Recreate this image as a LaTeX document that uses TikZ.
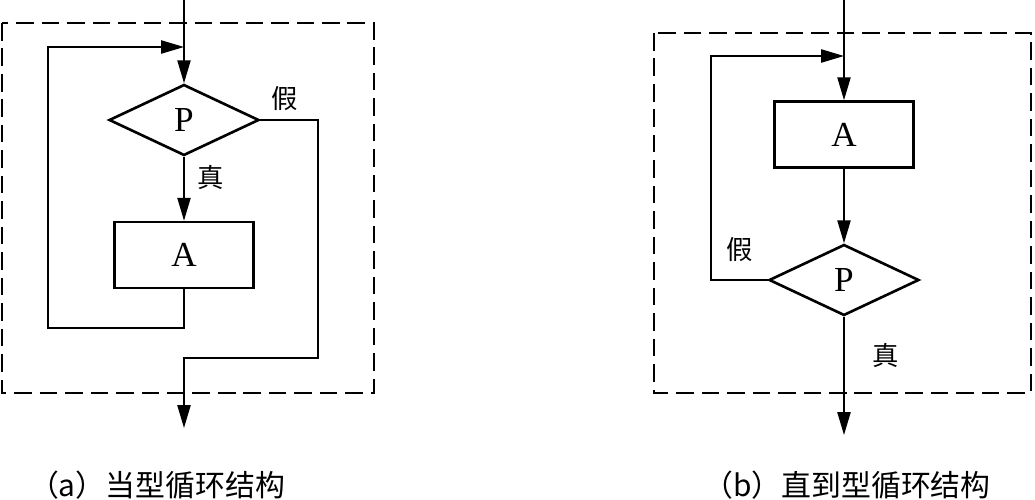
\documentclass[tikz,border=0pt]{standalone}
\usepackage{fontspec}
\setmainfont{Liberation Serif}
\newfontfamily\cjk{Noto Sans CJK SC}
\usetikzlibrary{arrows.meta,shapes.geometric}

\begin{document}
\begin{tikzpicture}[
  x=0.02cm, y=-0.02cm,
  font=\fontsize{15}{18}\selectfont,
  proc/.style={draw, line width=1.5pt, minimum width=2.78cm, minimum height=1.32cm,
    inner sep=0pt, font=\fontsize{20}{22}\selectfont},
  dec/.style={draw, diamond, line width=1.5pt, minimum width=3cm, minimum height=1.42cm,
    inner sep=0pt, font=\fontsize{20}{22}\selectfont},
  flow/.style={line width=0.9pt, -{Triangle[length=13pt,width=7.5pt]}},
  frame/.style={line width=0.9pt, dash pattern=on 10pt off 4.5pt},
  lab/.style={font=\cjk\fontsize{15}{18}\selectfont, inner sep=2pt},
  captxt/.style={font=\cjk\fontsize{17}{20}\selectfont}
]
\useasboundingbox (0,0) rectangle (1035,500);

% (a) while loop
\draw[frame] (2,23) rectangle (374,393);
\coordinate (inA) at (184,0);
\node[dec] (pA) at (184,120) {P};
\node[proc] (aA) at (184,255) {A};
\coordinate (loopA) at (184,47);
\coordinate (backA) at (48,328);
\coordinate (fA) at (318,358);
\coordinate (outA) at (184,428);
\draw[flow] (inA) -- (pA.north);
\draw[flow] (pA.south) -- (aA.north) node[lab, pos=0.32, right=5pt] {真};
\draw[flow] (aA.south) |- (backA) |- (loopA);
\draw[flow] (pA.east) -| (fA) node[lab, pos=0.21, above=3pt] {假} -| (outA);
\node[captxt] (capA) at (157,485) {（a）当型循环结构};

% (b) do-until loop
\draw[frame] (654,33) rectangle (1031,393);
\coordinate (inB) at (844,0);
\node[proc] (aB) at (844,134.5) {A};
\node[dec] (pB) at (844,280) {P};
\coordinate (loopB) at (844,56);
\coordinate (backB) at (711,280);
\coordinate (outB) at (844,435);
\draw[flow] (inB) -- (aB.north);
\draw[flow] (aB.south) -- (pB.north);
\draw[flow] (pB.west) -- (backB) node[lab, midway, above=8pt] {假} |- (loopB);
\draw[flow] (pB.south) -- (outB) node[lab, pos=0.33, right=14pt] {真};
\node[captxt] (capB) at (847,485) {（b）直到型循环结构};
\end{tikzpicture}
\end{document}
